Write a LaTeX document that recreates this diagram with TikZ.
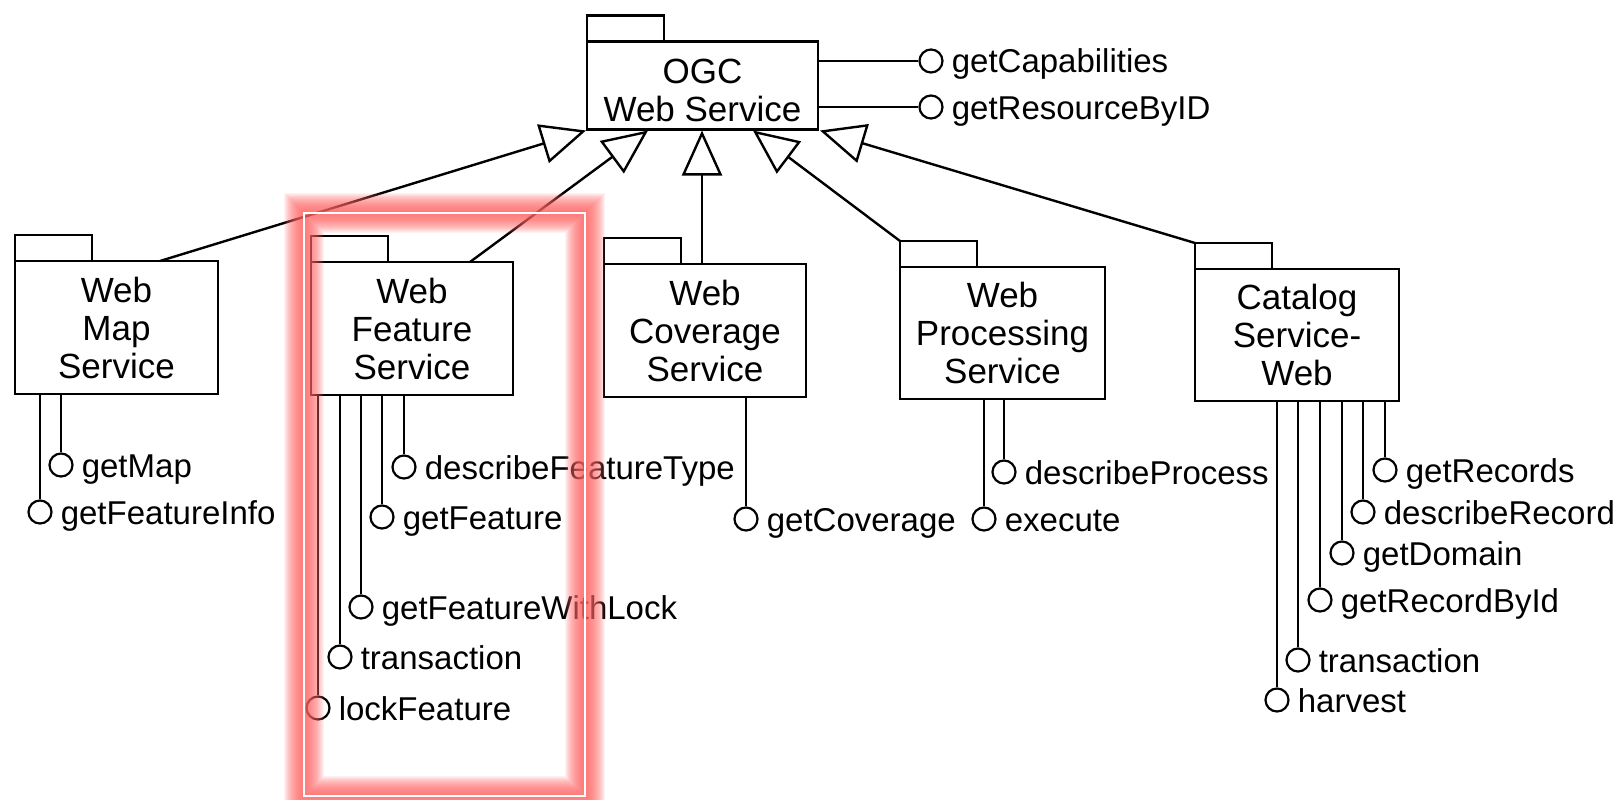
\documentclass[tikz,border=0pt]{standalone}
\usepackage{fontspec}
\setmainfont{Liberation Sans}
\usetikzlibrary{arrows.meta,calc}
\begin{document}
\begin{tikzpicture}[x=1pt,y=-1pt,
  line width=2.4pt,
  body/.style={draw, line width=2.4pt, inner sep=0pt, outer sep=0pt, align=center, font=\fontsize{35}{38}\selectfont},
  tabbox/.style={draw, line width=2.4pt, inner sep=0pt, outer sep=0pt, anchor=south west, minimum width=77pt, minimum height=26pt},
  ifc/.style={draw, circle, line width=2.2pt, minimum size=23pt, inner sep=0pt},
  lbl/.style={inner sep=0pt, anchor=base west, font=\fontsize{33}{38}\selectfont},
  inh/.style={-{Triangle[open,length=45pt,width=40pt]}, line width=2.4pt},
  stem/.style={line width=2.4pt},
  glow/.style={draw=red!60, line width=#1, opacity=0.085},
]
\useasboundingbox (0,0) rectangle (1614,800);
\fill[white] (0,0) rectangle (1614,800);

% ---------- packages ----------
\node[body, minimum width=231pt, minimum height=88pt, text height=72pt] (ogc) at (702.5,85.5) {OGC\\Web Service};
\node[tabbox] (ogctab) at (ogc.north west) {};

\node[body, minimum width=203pt, minimum height=133pt] (wms) at (116.5,327.5) {Web\\Map\\Service};
\node[tabbox] (wmstab) at (wms.north west) {};

\node[body, minimum width=202pt, minimum height=133pt] (wfs) at (412,328.5) {Web\\Feature\\Service};
\node[tabbox] (wfstab) at (wfs.north west) {};

\node[body, minimum width=202pt, minimum height=133pt] (wcs) at (705,330.5) {Web\\Coverage\\Service};
\node[tabbox] (wcstab) at (wcs.north west) {};

\node[body, minimum width=205pt, minimum height=132pt] (wps) at (1002.5,333) {Web\\Processing\\Service};
\node[tabbox] (wpstab) at (wps.north west) {};

\node[body, minimum width=204pt, minimum height=132pt] (csw) at (1297,335) {Catalog\\Service-\\Web};
\node[tabbox] (cswtab) at (csw.north west) {};

% ---------- generalisation arrows ----------
\coordinate (t1) at ($(ogc.south west)+(-1,1)$);
\coordinate (t2) at ($(ogc.south west)+(61,1)$);
\coordinate (t3) at ($(ogc.south west)+(115,1)$);
\coordinate (t4) at ($(ogc.south west)+(166,1)$);
\coordinate (t5) at ($(ogc.south east)+(2,1)$);
\coordinate (s1) at ($(wms.north west)+(145,0)$);
\coordinate (s2) at ($(wfs.north west)+(159,0)$);
\draw[inh] (s1) -- (t1);
\draw[inh] (s2) -- (t2);
\draw[inh] (t3 |- wcs.north) -- (t3);
\draw[inh] (wpstab.north west) -- (t4);
\draw[inh] (cswtab.north west) -- (t5);

% ---------- OGC interfaces ----------
\node[ifc] (gc) at (931,61) {};
\draw[stem] (ogc.east |- gc) -- (gc);
\node[lbl] (gcl) at ($(gc.east)+(7,12)$) {getCapabilities};
\node[ifc] (gr) at (931,107) {};
\draw[stem] (ogc.east |- gr) -- (gr);
\node[lbl] (grl) at ($(gr.east)+(7,12)$) {getResourceByID};

% ---------- WMS interfaces ----------
\node[ifc] (gm) at (61,465) {};
\draw[stem] (gm |- wms.south) -- (gm);
\node[lbl] (gml) at ($(gm.east)+(7,12)$) {getMap};
\node[ifc] (gfi) at (40,512) {};
\draw[stem] (gfi |- wms.south) -- (gfi);
\node[lbl] (gfil) at ($(gfi.east)+(7,12)$) {getFeatureInfo};

% ---------- WFS interfaces ----------
\node[ifc] (dft) at (404,467) {};
\draw[stem] (dft |- wfs.south) -- (dft);
\node[lbl] (dftl) at ($(dft.east)+(7,12)$) {describeFeatureType};
\node[ifc] (gf) at (382,517) {};
\draw[stem] (gf |- wfs.south) -- (gf);
\node[lbl] (gfl) at ($(gf.east)+(7,12)$) {getFeature};
\node[ifc] (gfw) at (361,607) {};
\draw[stem] (gfw |- wfs.south) -- (gfw);
\node[lbl] (gfwl) at ($(gfw.east)+(7,12)$) {getFeatureWithLock};
\node[ifc] (wtr) at (340,657) {};
\draw[stem] (wtr |- wfs.south) -- (wtr);
\node[lbl] (wtrl) at ($(wtr.east)+(7,12)$) {transaction};
\node[ifc] (lf) at (318,708) {};
\draw[stem] (lf |- wfs.south) -- (lf);
\node[lbl] (lfl) at ($(lf.east)+(7,12)$) {lockFeature};

% ---------- WCS interface ----------
\node[ifc] (gcv) at (746,519) {};
\draw[stem] (gcv |- wcs.south) -- (gcv);
\node[lbl] (gcvl) at ($(gcv.east)+(7,12)$) {getCoverage};

% ---------- WPS interfaces ----------
\node[ifc] (dp) at (1004,472) {};
\draw[stem] (dp |- wps.south) -- (dp);
\node[lbl] (dpl) at ($(dp.east)+(7,12)$) {describeProcess};
\node[ifc] (ex) at (984,519) {};
\draw[stem] (ex |- wps.south) -- (ex);
\node[lbl] (exl) at ($(ex.east)+(7,12)$) {execute};

% ---------- CSW interfaces ----------
\node[ifc] (grc) at (1385,470) {};
\draw[stem] (grc |- csw.south) -- (grc);
\node[lbl] (grcl) at ($(grc.east)+(7,12)$) {getRecords};
\node[ifc] (dr) at (1363,512) {};
\draw[stem] (dr |- csw.south) -- (dr);
\node[lbl] (drl) at ($(dr.east)+(7,12)$) {describeRecord};
\node[ifc] (gd) at (1342,553) {};
\draw[stem] (gd |- csw.south) -- (gd);
\node[lbl] (gdl) at ($(gd.east)+(7,12)$) {getDomain};
\node[ifc] (grb) at (1320,600) {};
\draw[stem] (grb |- csw.south) -- (grb);
\node[lbl] (grbl) at ($(grb.east)+(7,12)$) {getRecordById};
\node[ifc] (ctr) at (1298,660) {};
\draw[stem] (ctr |- csw.south) -- (ctr);
\node[lbl] (ctrl) at ($(ctr.east)+(7,12)$) {transaction};
\node[ifc] (hv) at (1277,700) {};
\draw[stem] (hv |- csw.south) -- (hv);
\node[lbl] (hvl) at ($(hv.east)+(7,12)$) {harvest};

% ---------- highlight frame (soft red glow) ----------
\foreach \w in {40,38,...,2} {
  \draw[glow=\w pt] (304,213) rectangle (585,796);
}
\draw[white, line width=1.6pt] (304,213) rectangle (585,796);
\end{tikzpicture}
\end{document}
